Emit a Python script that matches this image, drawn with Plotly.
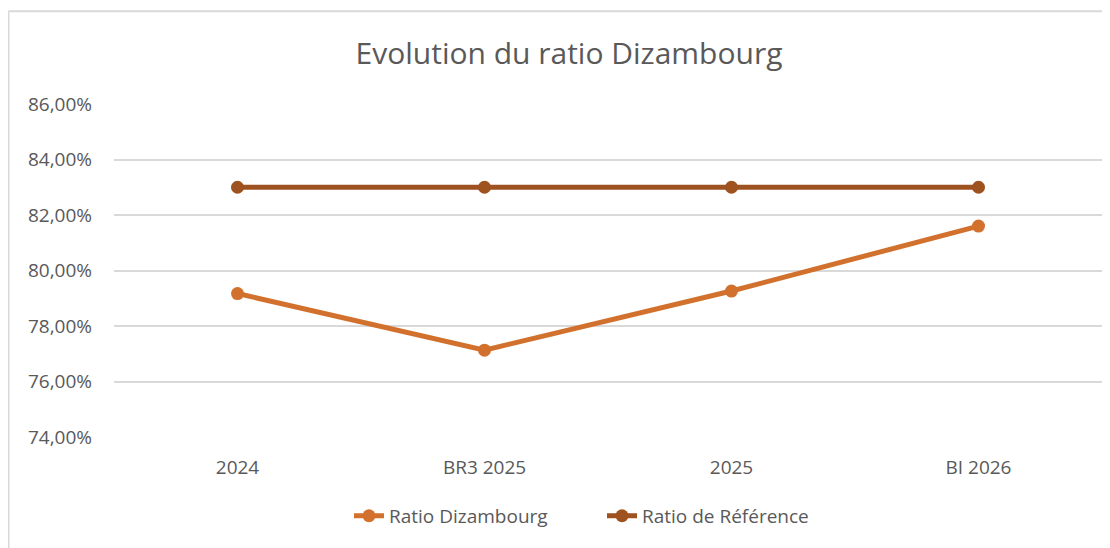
import plotly.graph_objects as go

categories = ["2024", "BR3 2025", "2025", "BI 2026"]
ratio_dizambourg = [0.7917, 0.7713, 0.7926, 0.8160]
ratio_reference = [0.83, 0.83, 0.83, 0.83]

c_diz = "#D2712D"
c_ref = "#9E5220"
grey = "#595959"

fig = go.Figure()
fig.add_trace(go.Scatter(
    x=categories, y=ratio_dizambourg, name="Ratio Dizambourg",
    mode="lines+markers", line=dict(color=c_diz, width=5),
    marker=dict(color=c_diz, size=13)))
fig.add_trace(go.Scatter(
    x=categories, y=ratio_reference, name="Ratio de Référence",
    mode="lines+markers", line=dict(color=c_ref, width=5),
    marker=dict(color=c_ref, size=13)))

# page has an 8px body margin, so figure coords = screen coords - 8
OFF = 8
W, H = 1110 - OFF, 548 - OFF
L, R, T, B = 114 - OFF, 8, 103.5 - OFF, 548 - 437
pw, ph = W - L - R, H - T - B

def px(x):
    return (x - OFF - L) / pw

def py(y):
    return (H - B - (y - OFF)) / ph

fig.update_layout(
    width=W, height=H,
    margin=dict(l=L, r=R, t=T, b=B),
    paper_bgcolor="white", plot_bgcolor="white",
    separators=", ",
    font=dict(family="Open Sans, Lato, sans-serif", color=grey, size=19),
    title=dict(text="Evolution du ratio Dizambourg", x=(569 - OFF) / W, xanchor="center",
               y=1 - (53 - OFF) / H, yanchor="middle",
               font=dict(size=30, color=grey, family="Open Sans, sans-serif")),
    showlegend=True,
    legend=dict(orientation="h", x=px(349), xanchor="left", y=py(516), yanchor="middle",
                font=dict(size=19, color=grey), itemwidth=30,
                entrywidth=208, entrywidthmode="pixels",
                traceorder="normal", bgcolor="rgba(0,0,0,0)"),
    xaxis=dict(showgrid=False, showline=False, zeroline=False, ticks="",
               ticklabelstandoff=17, tickfont=dict(size=19, color=grey),
               range=[-0.5, 3.5], fixedrange=True),
    yaxis=dict(range=[0.74, 0.86], dtick=0.02, tickformat=".2%",
               showgrid=True, gridcolor="#D9D9D9", gridwidth=1.5,
               zeroline=False, showline=False, ticks="",
               ticklabelstandoff=21, tickfont=dict(size=19, color=grey)),
    shapes=[
        dict(type="line", xref="paper", yref="paper",
             x0=px(8.5), x1=px(1130), y0=py(10.5), y1=py(10.5),
             line=dict(color="#D9D9D9", width=2)),
        dict(type="line", xref="paper", yref="paper",
             x0=px(8.5), x1=px(8.5), y0=py(10.5), y1=py(570),
             line=dict(color="#D9D9D9", width=2)),
    ],
)

fig.write_html("out.html")
